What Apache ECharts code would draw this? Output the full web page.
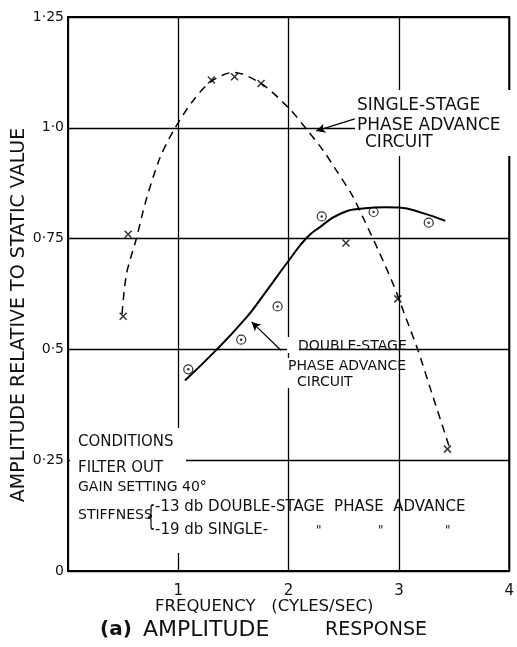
<!DOCTYPE html>
<html>
<head>
<meta charset="utf-8">
<script src="https://cdn.jsdelivr.net/npm/echarts@6/dist/echarts.min.js"></script>
<style>
  html, body { margin: 0; padding: 0; background: #fff; }
  #chart { width: 517px; height: 647px; }
</style>
</head>
<body>
<div id="chart"></div>
<script>
// tick labels
const xTickLabels = ['', '1', '2', '3', '4'];
const yTickLabels = ['0', '0·25', '0·5', '0·75', '1·0', '1·25'];

// single-stage phase advance (x markers + dashed curve)
const singleStagePoints = [
  [0.50, 0.575], [0.545, 0.76], [1.30, 1.108], [1.51, 1.115], [1.75, 1.10],
  [2.52, 0.74], [2.99, 0.614], [3.44, 0.275]
];
const singleStageCurve = [
  [0.49, 0.58], [0.53, 0.67], [0.62, 0.75], [0.70, 0.83], [0.83, 0.93],
  [0.96, 0.995], [1.13, 1.06], [1.30, 1.105], [1.50, 1.125], [1.75, 1.10],
  [2.00, 1.045], [2.13, 1.007], [2.31, 0.95], [2.43, 0.905], [2.58, 0.846],
  [2.67, 0.80], [2.82, 0.72], [2.96, 0.64], [3.05, 0.58], [3.17, 0.50],
  [3.30, 0.40], [3.47, 0.27]
];

// double-stage phase advance (dotted circles + solid curve)
const doubleStagePoints = [
  [1.09, 0.455], [1.57, 0.522], [1.90, 0.597], [2.30, 0.80], [2.77, 0.81], [3.27, 0.786]
];
const doubleStageCurve = [
  [1.06, 0.43], [1.35, 0.50], [1.62, 0.573], [1.75, 0.615], [2.00, 0.70],
  [2.164, 0.752], [2.284, 0.776], [2.46, 0.805], [2.67, 0.818], [2.88, 0.821],
  [3.00, 0.82], [3.21, 0.808], [3.42, 0.79]
];

// annotation arrows (from label to curve)
const singleArrow = [[2.60, 1.02], [2.25, 0.993]];
const doubleArrow = [[1.93, 0.498], [1.665, 0.562]];

const FONT = "'DejaVu Sans', sans-serif";

const chart = echarts.init(document.getElementById('chart'));

// text helper for the hand lettered notes
const txt = (text, x, y, size, weight) => ({
  type: 'text',
  x: x,
  y: y,
  z: 3,
  style: {
    text: text,
    fill: '#111',
    font: (weight || 'normal') + ' ' + size + 'px ' + FONT,
    align: 'left',
    verticalAlign: 'middle'
  }
});

const arrowLine = (pts) => ({
  silent: true,
  symbol: ['none', 'arrow'],
  symbolSize: [7, 9],
  label: { show: false },
  lineStyle: { color: '#000', width: 1.2, type: 'solid' },
  data: [[{ coord: pts[0] }, { coord: pts[1] }]]
});

const option = {
  animation: false,
  backgroundColor: '#fff',
  grid: {
    left: 68,
    right: 4,
    top: 17,
    bottom: 76,
    show: true,
    borderColor: '#000',
    borderWidth: 2
  },
  xAxis: {
    type: 'value',
    min: 0,
    max: 4,
    interval: 1,
    axisLine: { show: false },
    axisTick: { show: false },
    splitLine: { show: true, lineStyle: { color: '#000', width: 1.3 } },
    axisLabel: {
      color: '#111',
      fontSize: 15,
      fontFamily: FONT,
      margin: 13,
      formatter: (v) => xTickLabels[Math.round(v)]
    }
  },
  yAxis: {
    type: 'value',
    min: 0,
    max: 1.25,
    interval: 0.25,
    axisLine: { show: false },
    axisTick: { show: false },
    splitLine: { show: true, lineStyle: { color: '#000', width: 1.3 } },
    axisLabel: {
      color: '#111',
      fontSize: 14,
      fontFamily: FONT,
      margin: 4,
      formatter: (v) => yTickLabels[Math.round(v / 0.25)]
    }
  },
  series: [
    {
      type: 'line',
      data: singleStageCurve,
      smooth: 0.3,
      symbol: 'none',
      silent: true,
      lineStyle: { color: '#000', width: 1.5, type: [8, 6] },
      markLine: arrowLine(singleArrow)
    },
    {
      type: 'line',
      data: doubleStageCurve,
      smooth: 0.5,
      symbol: 'none',
      silent: true,
      lineStyle: { color: '#000', width: 2 },
      markLine: arrowLine(doubleArrow)
    },
    {
      type: 'scatter',
      data: singleStagePoints,
      symbol: 'path://M0,0L10,10M10,0L0,10',
      symbolSize: 7,
      silent: true,
      itemStyle: { color: 'rgba(0,0,0,0)', borderColor: '#000', borderWidth: 1.5 }
    },
    {
      type: 'scatter',
      data: doubleStagePoints,
      symbol: 'circle',
      symbolSize: 9,
      silent: true,
      itemStyle: { color: '#fff', borderColor: '#000', borderWidth: 1.2 }
    },
    {
      type: 'scatter',
      data: doubleStagePoints,
      symbol: 'circle',
      symbolSize: 2.5,
      silent: true,
      itemStyle: { color: '#000' }
    }
  ],
  graphic: [
    // erased grid lines behind the notes
    { type: 'rect', z: 1, shape: { x: 70, y: 428, width: 116, height: 125 }, style: { fill: '#fff' } },
    { type: 'rect', z: 1, shape: { x: 355, y: 90, width: 156, height: 66 }, style: { fill: '#fff' } },
    { type: 'rect', z: 1, shape: { x: 287, y: 337, width: 12, height: 16 }, style: { fill: '#fff' } },
    { type: 'rect', z: 1, shape: { x: 287, y: 358, width: 12, height: 30 }, style: { fill: '#fff' } },

    // y axis name
    {
      type: 'text',
      x: 19,
      y: 315,
      rotation: Math.PI / 2,
      z: 3,
      style: {
        text: 'AMPLITUDE RELATIVE TO STATIC VALUE',
        fill: '#111',
        font: '19px ' + FONT,
        align: 'center',
        verticalAlign: 'middle'
      }
    },

    // single-stage label
    txt('SINGLE-STAGE', 357, 106, 17),
    txt('PHASE ADVANCE', 357, 126, 17),
    txt('CIRCUIT', 365, 143, 17),

    // double-stage label
    txt('DOUBLE-STAGE', 298, 346, 14),
    txt('PHASE ADVANCE', 288, 366, 14),
    txt('CIRCUIT', 297, 382, 14),

    // conditions
    txt('CONDITIONS', 78, 442, 15),
    txt('FILTER OUT', 78, 468, 15),
    txt('GAIN SETTING 40°', 78, 487, 14),
    txt('STIFFNESS', 78, 515, 14),
    {
      type: 'text',
      x: 151,
      y: 519,
      z: 3,
      scaleX: 0.5,
      style: { text: '{', fill: '#111', font: '28px ' + FONT, align: 'center', verticalAlign: 'middle' }
    },
    txt('-13 db DOUBLE-STAGE  PHASE  ADVANCE', 155, 507, 15),
    txt('-19 db SINGLE-', 155, 530, 15),
    txt('"', 316, 531, 12),
    txt('"', 378, 531, 12),
    txt('"', 445, 531, 12),

    // x axis name and caption
    txt('FREQUENCY   (CYLES/SEC)', 155, 607, 16.5),
    txt('(a)', 100, 630, 20, 'bold'),
    txt('AMPLITUDE', 143, 630, 22),
    txt('RESPONSE', 325, 630, 19)
  ]
};

chart.setOption(option);
</script>
</body>
</html>
